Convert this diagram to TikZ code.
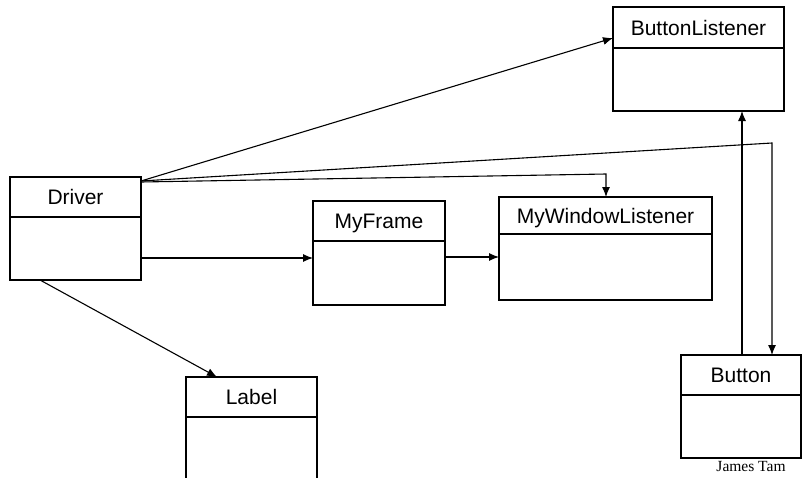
\documentclass[tikz,border=0pt]{standalone}
\usepackage{fontspec}
\setmainfont{Liberation Sans}
\newfontfamily\tamfont{Liberation Serif}
\usetikzlibrary{arrows.meta,calc}

% one UML class box: name, left, top, right, bottom, divider y, title
\newcommand{\umlbox}[7]{%
  \node[classbox, minimum width={#4-#2}, minimum height={#5-#3}]
       (#1) at ({(#2+#4)/2},{(#3+#5)/2}) {};
  \draw[boxline] (#2,#6) -- (#4,#6);
  \node[classtitle] (#1-title) at ({(#2+#4)/2},{(#3+#6)/2+7.5}) {#7};
}

\begin{document}
\begin{tikzpicture}[x=1pt,y=-1pt,
  boxline/.style={line width=1.1pt},
  classbox/.style={draw, line width=1.1pt, rectangle, inner sep=0pt, outer sep=0pt},
  classtitle/.style={anchor=base, inner sep=0pt, font=\fontsize{21}{24}\selectfont},
  link/.style={line width=1.1pt, -{Latex[length=10pt,width=8pt]}}]
  \clip (0,0) rectangle (803,477);
  \fill[white] (0,0) rectangle (803,477);

  \umlbox{driver}{10}{177}{141}{280}{217}{Driver}
  \umlbox{frame}{313}{201}{445}{305}{241}{MyFrame}
  \umlbox{mwl}{499}{197}{712}{300}{234}{MyWindowListener}
  \umlbox{blist}{613}{7}{784}{111}{48}{ButtonListener}
  \umlbox{button}{681}{355}{801}{458}{395}{Button}
  \umlbox{label}{186}{377}{317}{520}{417}{Label}

  \node[font=\tamfont\fontsize{15.5}{17}\selectfont, inner sep=0pt]
       (author) at (751,466) {James Tam};

  % Driver -> ButtonListener
  \draw[link] ($(driver.north east)+(0,4)$) -- ($(blist.north west)+(0,31)$);
  % Driver -> Button
  \coordinate (bcorner) at ($(button.north west)+(91,-212)$);
  \draw[link] ($(driver.north east)+(0,4)$) -- (bcorner) -- (bcorner |- button.north);
  % Driver -> MyWindowListener
  \coordinate (wcorner) at ($(mwl.north west)+(107,-23)$);
  \draw[link] ($(driver.north east)+(0,5)$) -- (wcorner) -- (wcorner |- mwl.north);
  % Driver -> MyFrame
  \coordinate (dfstart) at ($(driver.north east)+(0,81)$);
  \draw[link] (dfstart) -- (dfstart -| frame.west);
  % MyFrame -> MyWindowListener
  \coordinate (fwstart) at ($(frame.north east)+(0,56)$);
  \draw[link] (fwstart) -- (fwstart -| mwl.west);
  % Driver -> Label
  \draw[link] ($(driver.south west)+(30,0)$) -- ($(label.north west)+(31,0)$);
  % Button -> ButtonListener
  \coordinate (bbstart) at ($(button.north west)+(61,0)$);
  \draw[link] (bbstart) -- (bbstart |- blist.south);
\end{tikzpicture}
\end{document}
